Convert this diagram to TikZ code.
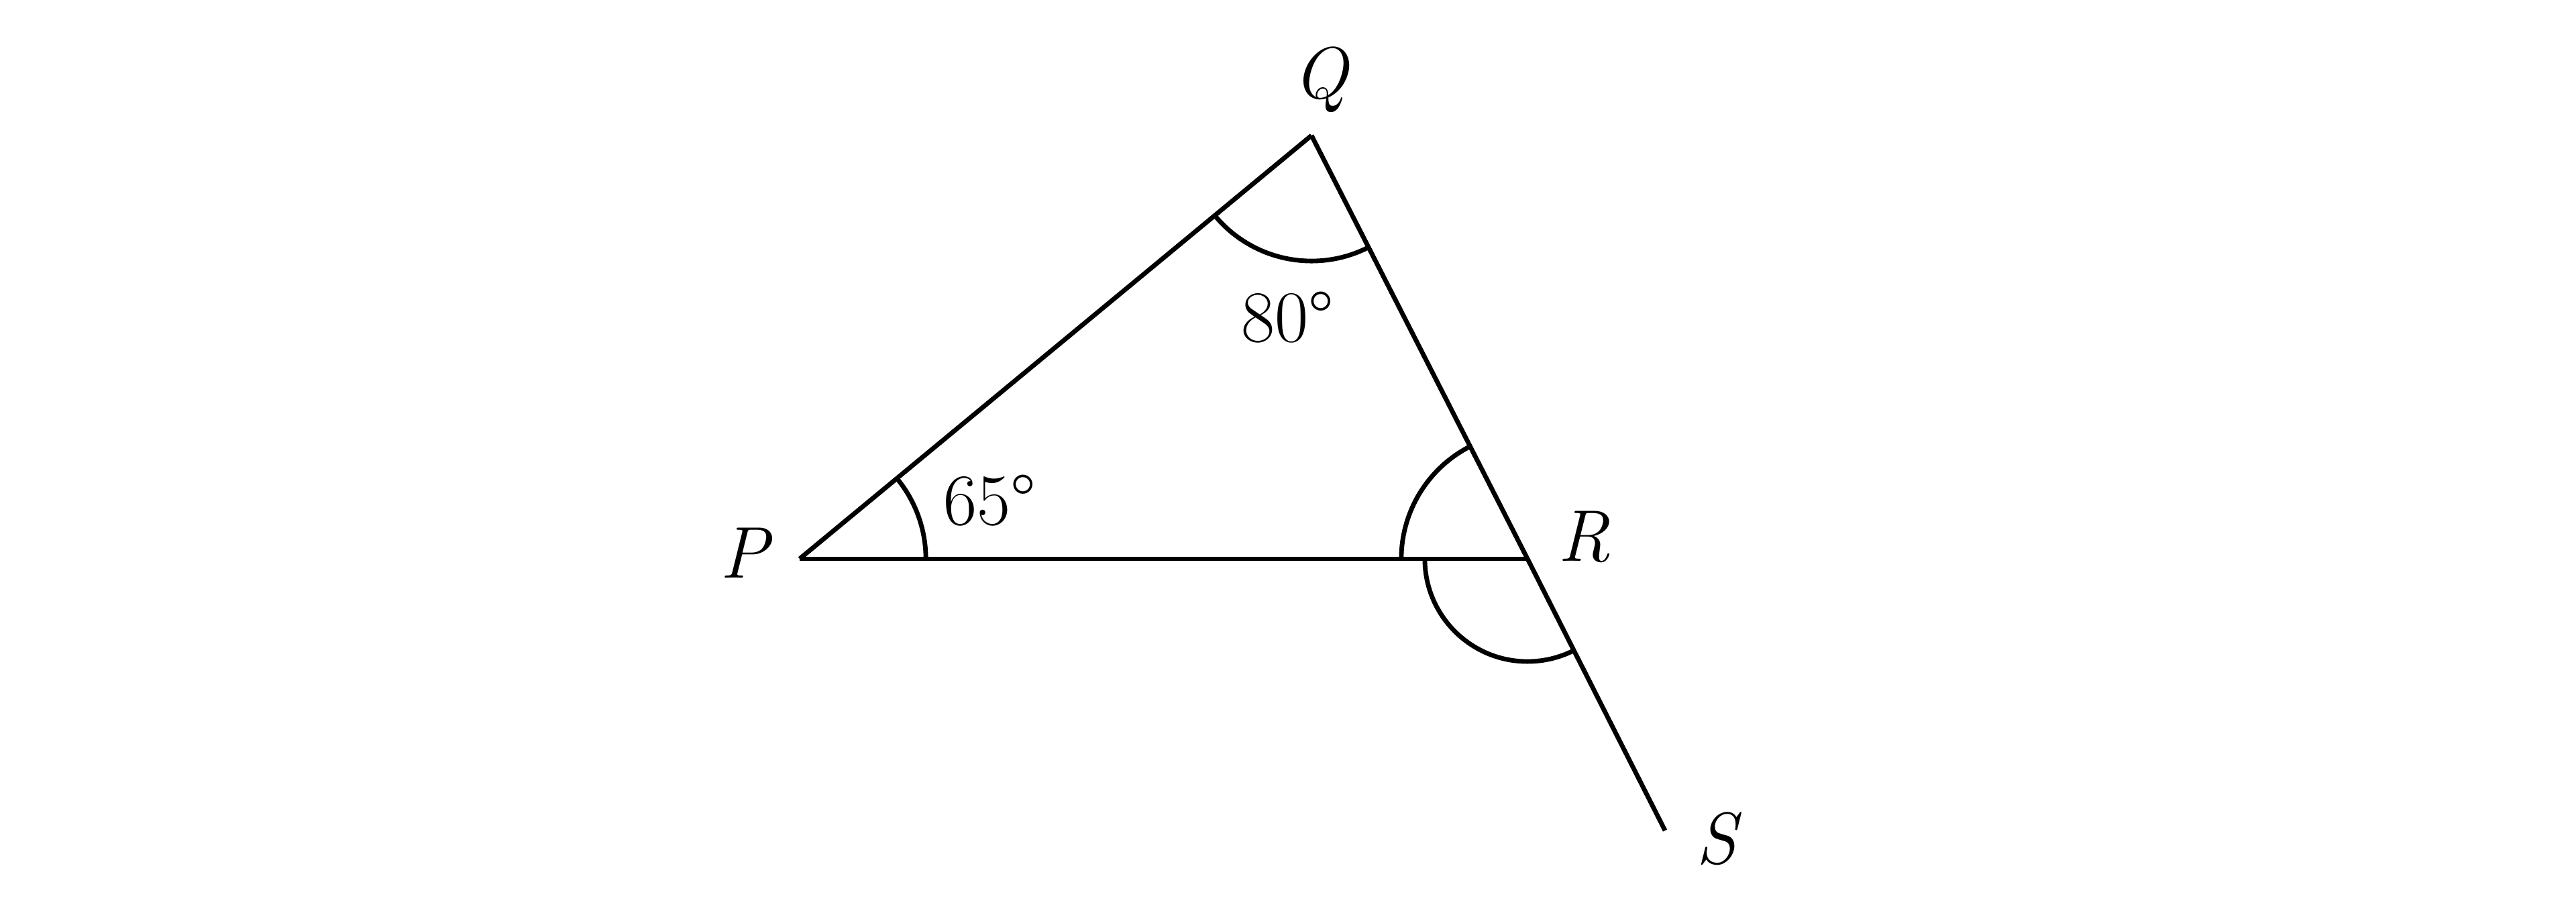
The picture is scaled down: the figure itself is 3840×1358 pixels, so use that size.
\documentclass[tikz,border=0pt]{standalone}
\usepackage{fontspec}
\usetikzlibrary{angles}
\tikzset{
    myside/.style = {-,line width=1.95pt,black},
    myarc/.style = {draw,line width=1.95pt,black},
    mylabel/.style = {anchor=base,inner sep=0pt,font=\fontsize{31}{36}\selectfont,text=black}
}
\begin{document}
\begin{tikzpicture}[x=0.01cm,y=0.01cm]
%
\path[use as bounding box] (0,0) rectangle (3840,1358);
%
\coordinate (P) at (1192,525);
\coordinate (Q) at (1955,1156);
\coordinate (R) at (2277,525);
\coordinate (S) at (2482,120);
%
\draw[myside] (P) -- (Q);
\draw[myside] (Q) -- (R) -- (S);
\draw[myside] (P) -- (R);
%
\pic[myarc,angle radius=1.88cm] {angle = R--P--Q};
\pic[myarc,angle radius=1.87cm] {angle = P--Q--R};
\pic[myarc,angle radius=1.88cm] {angle = Q--R--P};
\pic[myarc,angle radius=1.53cm] {angle = P--R--S};
%
\node[mylabel] at (1110,496) (lP) {\itshape P};
\node[mylabel] at (1968,1211) (lQ) {\itshape Q};
\node[mylabel] at (2361,521) (lR) {\itshape R};
\node[mylabel] at (2558,70) (lS) {\itshape S};
\node[mylabel] at (1475,575) (aP) {65\textdegree};
\node[mylabel] at (1919,848) (aQ) {80\textdegree};
\end{tikzpicture}
\end{document}
